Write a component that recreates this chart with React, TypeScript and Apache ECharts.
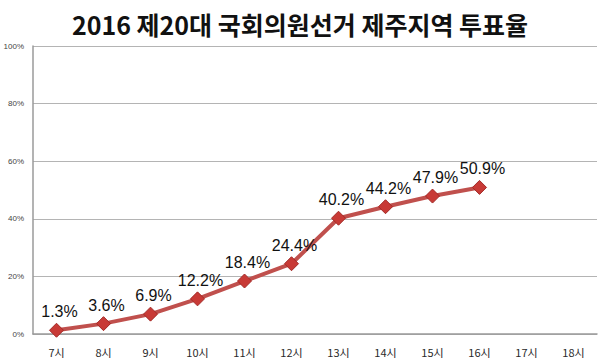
import React, { useEffect, useRef } from "react";
import * as echarts from "echarts";

const title = "2016 제20대 국회의원선거 제주지역 투표율";
const categories = ["7시", "8시", "9시", "10시", "11시", "12시", "13시", "14시", "15시", "16시", "17시", "18시"];
const turnout: (number | null)[] = [1.3, 3.6, 6.9, 12.2, 18.4, 24.4, 40.2, 44.2, 47.9, 50.9, null, null];

export default function App() {
  const ref = useRef<HTMLDivElement>(null);
  useEffect(() => {
    if (!ref.current) return;
    const chart = echarts.init(ref.current, null, { renderer: "svg" });
    chart.setOption({
      animation: false,
      backgroundColor: "#ffffff",
      title: {
        text: title,
        left: "center",
        top: 6,
        textStyle: {
          fontFamily: "Noto Sans CJK KR",
          fontWeight: "bold",
          fontSize: 25,
          color: "#111111",
        },
      },
      grid: { left: 33, right: 3, top: 46, bottom: 26 },
      xAxis: {
        type: "category",
        data: categories,
        boundaryGap: true,
        axisLine: { lineStyle: { color: "#9a9a9a", width: 1.5 } },
        axisTick: { show: false },
        axisLabel: {
          fontFamily: "Noto Sans CJK KR",
          fontSize: 11,
          color: "#2a2a2a",
          margin: 12,
        },
      },
      yAxis: {
        type: "value",
        min: 0,
        max: 100,
        interval: 20,
        axisLine: { show: true, lineStyle: { color: "#9a9a9a", width: 1.5 } },
        axisTick: { show: false },
        splitLine: { lineStyle: { color: "#b4b4b4", width: 1.2 } },
        axisLabel: {
          formatter: "{value}%",
          fontFamily: "Liberation Sans",
          fontSize: 8,
          color: "#444444",
          margin: 9,
        },
      },
      series: [
        {
          type: "line",
          data: turnout,
          connectNulls: false,
          symbol: "diamond",
          symbolSize: 14,
          lineStyle: { color: "#c0504d", width: 4 },
          itemStyle: {
            color: "#c83a36",
            borderColor: "#a32a27",
            borderWidth: 1,
          },
          label: {
            show: true,
            position: "top",
            distance: 3,
            offset: [3, 0],
            formatter: (p: any) => `${p.value}%`,
            fontFamily: "Liberation Sans",
            fontSize: 16,
            color: "#111111",
          },
        },
      ],
    });
    return () => chart.dispose();
  }, []);
  return (
    <div
      ref={ref}
      style={{ position: "fixed", left: 0, top: 0, width: 600, height: 360 }}
    />
  );
}
